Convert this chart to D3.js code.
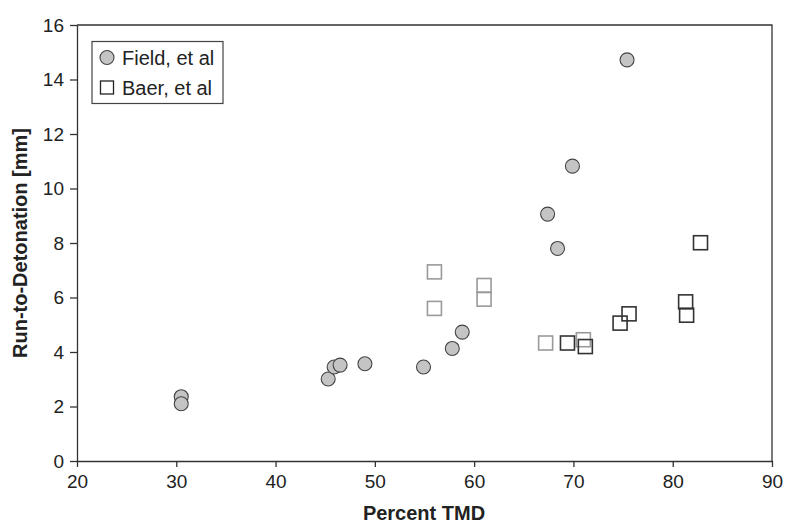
<!DOCTYPE html>
<html><head><meta charset="utf-8">
<script src="https://cdn.jsdelivr.net/npm/d3@7"></script>
<style>body{margin:0;background:#fff}svg{display:block;font-family:"Liberation Sans",Arial,sans-serif}</style>
</head><body><svg id="c" width="787" height="523"></svg>
<script>
const fieldX = [30.5, 30.5, 45.3, 45.9, 46.5, 49.0, 54.9, 57.8, 58.8, 67.4, 68.4, 69.9, 75.4];
const fieldY = [2.36, 2.10, 3.01, 3.45, 3.52, 3.57, 3.45, 4.13, 4.73, 9.06, 7.80, 10.82, 14.72];
const baerLightX = [56.0, 56.0, 61.0, 61.0, 67.2, 71.0];
const baerLightY = [6.94, 5.60, 6.44, 5.94, 4.33, 4.45];
const baerDarkX = [69.4, 71.2, 74.7, 75.6, 81.3, 81.4, 82.8];
const baerDarkY = [4.33, 4.20, 5.06, 5.40, 5.84, 5.35, 8.01];
const xTicks = [20, 30, 40, 50, 60, 70, 80, 90];
const yTicks = [0, 2, 4, 6, 8, 10, 12, 14, 16];
const legendLabels = ["Field, et al", "Baer, et al"];

const svg = d3.select("#c");
const L = 77, R = 772, T = 25, B = 461;
const x = d3.scaleLinear().domain([20, 90]).range([L, R]);
const y = d3.scaleLinear().domain([0, 16]).range([B, T]);
const axisCol = "#333";
const font = '"Liberation Sans",Arial,sans-serif';

svg.append("path").attr("d", `M${L},${T}H${R}V${B}`).attr("fill", "none").attr("stroke", axisCol).attr("stroke-width", 1.3);

const gx = svg.append("g").attr("transform", `translate(0,${B})`)
  .call(d3.axisBottom(x).tickValues(xTicks).tickSize(6).tickPadding(8).tickSizeOuter(0));
const gy = svg.append("g").attr("transform", `translate(${L},0)`)
  .call(d3.axisLeft(y).tickValues(yTicks).tickSize(7).tickPadding(6).tickSizeOuter(0));
[gx, gy].forEach(g => {
  g.selectAll("path,line").attr("stroke", axisCol).attr("stroke-width", 1.3);
  g.selectAll("text").attr("fill", "#222").style("font-size", "19px").style("font-family", font);
});

svg.append("text").attr("x", 424).attr("y", 520).attr("text-anchor", "middle")
  .style("font-size", "20px").style("font-weight", "bold").attr("fill", "#222").text("Percent TMD");
svg.append("text").attr("transform", `translate(27,243) rotate(-90)`).attr("text-anchor", "middle")
  .style("font-size", "20px").style("font-weight", "bold").attr("fill", "#222").text("Run-to-Detonation [mm]");

const sq = 14;
function squares(xs, ys, col) {
  svg.append("g").selectAll("rect").data(xs.map((d, i) => [d, ys[i]])).join("rect")
    .attr("x", d => x(d[0]) - sq / 2).attr("y", d => y(d[1]) - sq / 2)
    .attr("width", sq).attr("height", sq)
    .attr("fill", "none").attr("stroke", col).attr("stroke-width", 1.6);
}
squares(baerLightX, baerLightY, "#9a9a9a");
squares(baerDarkX, baerDarkY, "#333");

svg.append("g").selectAll("circle").data(fieldX.map((d, i) => [d, fieldY[i]])).join("circle")
  .attr("cx", d => x(d[0])).attr("cy", d => y(d[1])).attr("r", 7)
  .attr("fill", "#c4c4c4").attr("stroke", "#444").attr("stroke-width", 1.1);

const lg = svg.append("g");
lg.append("rect").attr("x", 92).attr("y", 41.5).attr("width", 131).attr("height", 62)
  .attr("fill", "#fff").attr("stroke", "#444").attr("stroke-width", 1.2);
lg.append("circle").attr("cx", 107).attr("cy", 57.5).attr("r", 7)
  .attr("fill", "#c4c4c4").attr("stroke", "#444").attr("stroke-width", 1.1);
lg.append("rect").attr("x", 100.5).attr("y", 81).attr("width", 13).attr("height", 13)
  .attr("fill", "#fff").attr("stroke", "#222").attr("stroke-width", 1.3);
lg.selectAll("text.l").data(legendLabels).join("text").attr("class", "l")
  .attr("x", 122).attr("y", (d, i) => 64.5 + i * 30)
  .style("font-size", "20px").attr("fill", "#222").text(d => d);
</script></body></html>
